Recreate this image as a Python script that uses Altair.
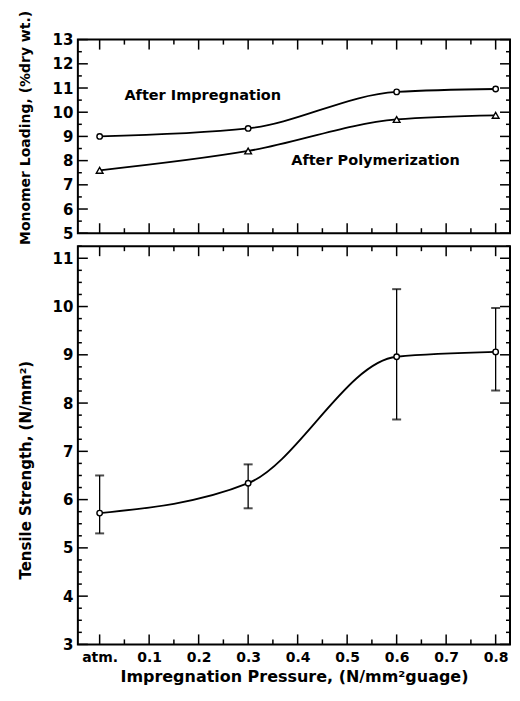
import altair as alt
import pandas as pd

# ---------------- data ----------------
pressure = [0.0, 0.3, 0.6, 0.8]
after_impregnation = [9.0, 9.33, 10.84, 10.96]
after_polymerization = [7.6, 8.4, 9.7, 9.87]
tensile = [5.72, 6.34, 8.96, 9.06]
tensile_low = [5.3, 5.82, 7.66, 8.26]
tensile_high = [6.5, 6.73, 10.36, 9.97]

x_tick_values = [0.0, 0.1, 0.2, 0.3, 0.4, 0.5, 0.6, 0.7, 0.8]
x_tick_labels = ["atm.", "0.1", "0.2", "0.3", "0.4", "0.5", "0.6", "0.7", "0.8"]
x_minor_ticks = [0.05, 0.15, 0.25, 0.35, 0.45, 0.55, 0.65, 0.75]
top_y_ticks = [5, 6, 7, 8, 9, 10, 11, 12, 13]
top_y_minor = [5.5, 6.5, 7.5, 8.5, 9.5, 10.5, 11.5, 12.5]
bottom_y_ticks = [3, 4, 5, 6, 7, 8, 9, 10, 11]
bottom_y_minor = [v + q for v in range(3, 11) for q in (0.25, 0.5, 0.75)] + [11.25]

annotation_text = ["After Impregnation", "After Polymerization"]
annotation_x = [0.05, 0.387]
annotation_y = [10.68, 8.0]

# ---------------- layout ----------------
W = 433
H_TOP = 194
H_BOT = 399
X_DOMAIN = [-0.044, 0.829]
TOP_DOMAIN = [5, 13]
BOT_DOMAIN = [3, 11.25]
FONT = "DejaVu Sans"

xscale = alt.Scale(domain=X_DOMAIN, nice=False, zero=False)
label_expr = " : ".join(
    f"datum.value == {v} ? '{l}'" for v, l in zip(x_tick_values, x_tick_labels)
) + " : ''"

top_scale = alt.Scale(domain=TOP_DOMAIN, nice=False, zero=False)
bot_scale = alt.Scale(domain=BOT_DOMAIN, nice=False, zero=False)

top_yaxis = alt.Axis(values=top_y_ticks, title="Monomer Loading, (%dry wt.)",
                     titleX=-52, titleY=88, titleAngle=270, titleFontSize=14,
                     titleAlign="center", titleBaseline="middle")
bot_yaxis = alt.Axis(values=bottom_y_ticks, title="Tensile Strength, (N/mm²)",
                     titleX=-52, titleY=224, titleAngle=270, titleFontSize=15,
                     titleAlign="center", titleBaseline="middle")
bot_xaxis = alt.Axis(values=x_tick_values, labelExpr=label_expr,
                     title="Impregnation Pressure, (N/mm²guage)",
                     labelPadding=6, titlePadding=4)


def X(field, axis):
    if axis is None:
        return alt.X(field, scale=xscale, axis=None)
    return alt.X(field, scale=xscale, axis=axis)


def tick_layers(yscale, yaxis, xaxis, y_major, y_minor, H):
    layers = []
    xmaj = pd.DataFrame({"t": x_tick_values})
    xmin = pd.DataFrame({"t": x_minor_ticks})
    for df, ln in ((xmaj, 10), (xmin, 5)):
        base = alt.Chart(df).mark_rule(color="black", strokeWidth=1.5)
        layers.append(base.encode(x=X("t:Q", xaxis),
                                  y=alt.value(H), y2=alt.value(H - ln)))
        layers.append(base.encode(x=X("t:Q", xaxis),
                                  y=alt.value(0), y2=alt.value(ln)))
    ymaj = pd.DataFrame({"t": y_major})
    ymin = pd.DataFrame({"t": y_minor})
    for df, ln in ((ymaj, 10), (ymin, 4)):
        base = alt.Chart(df).mark_rule(color="black", strokeWidth=1.5)
        layers.append(base.encode(y=alt.Y("t:Q", scale=yscale, axis=yaxis),
                                  x=alt.value(0), x2=alt.value(ln)))
        layers.append(base.encode(y=alt.Y("t:Q", scale=yscale, axis=yaxis),
                                  x=alt.value(W), x2=alt.value(W - ln)))
    return layers


# ---------------- top panel ----------------
top_df = pd.DataFrame({
    "p": pressure * 2,
    "v": after_impregnation + after_polymerization,
    "s": ["Impregnation"] * 4 + ["Polymerization"] * 4,
})
imp_df = top_df[top_df.s == "Impregnation"]
pol_df = top_df[top_df.s == "Polymerization"]

TY = dict(scale=top_scale, axis=top_yaxis)

lines_top = alt.Chart(top_df).mark_line(
    interpolate="monotone", color="black", strokeWidth=1.8
).encode(x=X("p:Q", None), y=alt.Y("v:Q", **TY), detail="s:N")
pts_imp = alt.Chart(imp_df).mark_point(
    shape="circle", size=30, filled=True, fill="white", stroke="black",
    strokeWidth=1.4, opacity=1
).encode(x=X("p:Q", None), y=alt.Y("v:Q", **TY))
pts_pol = alt.Chart(pol_df).mark_point(
    shape="triangle-up", size=45, filled=True, fill="white", stroke="black",
    strokeWidth=1.4, opacity=1
).encode(x=X("p:Q", None), y=alt.Y("v:Q", **TY))
ann_df = pd.DataFrame({"t": annotation_text, "x": annotation_x, "y": annotation_y})
ann = alt.Chart(ann_df).mark_text(
    align="left", baseline="middle", font=FONT, fontWeight="bold", fontSize=14.5
).encode(x=X("x:Q", None), y=alt.Y("y:Q", **TY), text="t:N")

top = alt.layer(
    lines_top, pts_imp, pts_pol, ann,
    *tick_layers(top_scale, top_yaxis, None, top_y_ticks, top_y_minor, H_TOP)
).properties(width=W, height=H_TOP)

# ---------------- bottom panel ----------------
bot_df = pd.DataFrame({"p": pressure, "v": tensile,
                       "lo": tensile_low, "hi": tensile_high})
BY = dict(scale=bot_scale, axis=bot_yaxis)

line_bot = alt.Chart(bot_df).mark_line(
    interpolate="monotone", color="black", strokeWidth=1.8
).encode(x=X("p:Q", bot_xaxis), y=alt.Y("v:Q", **BY))
err = alt.Chart(bot_df).mark_rule(color="black", strokeWidth=1.3).encode(
    x=X("p:Q", bot_xaxis), y=alt.Y("lo:Q", **BY), y2="hi:Q")
cap_lo = alt.Chart(bot_df).mark_tick(color="black", thickness=2, size=9,
                                     orient="horizontal").encode(
    x=X("p:Q", bot_xaxis), y=alt.Y("lo:Q", **BY))
cap_hi = alt.Chart(bot_df).mark_tick(color="black", thickness=2, size=9,
                                     orient="horizontal").encode(
    x=X("p:Q", bot_xaxis), y=alt.Y("hi:Q", **BY))
pts_bot = alt.Chart(bot_df).mark_point(
    shape="circle", size=30, filled=True, fill="white", stroke="black",
    strokeWidth=1.4, opacity=1
).encode(x=X("p:Q", bot_xaxis), y=alt.Y("v:Q", **BY))

bottom = alt.layer(
    line_bot, err, cap_lo, cap_hi, pts_bot,
    *tick_layers(bot_scale, bot_yaxis, bot_xaxis, bottom_y_ticks, bottom_y_minor, H_BOT)
).properties(width=W, height=H_BOT)

chart = alt.vconcat(top, bottom, spacing=13, bounds="flush").properties(
    padding={"left": 9, "top": 0, "right": 0, "bottom": 0}
).configure_view(
    stroke="black", strokeWidth=2
).configure_axis(
    domain=False, ticks=False, grid=False,
    labelFont=FONT, labelFontWeight="bold", labelFontSize=14, labelColor="black",
    titleFont=FONT, titleFontWeight="bold", titleFontSize=15, titleColor="black",
    labelPadding=5,
).configure_axisX(
    labelFontSize=14, titleFontSize=16,
).configure_axisY(
    labelFontSize=15,
)

chart.save("out.html", embed_options={"renderer": "svg", "actions": False})
